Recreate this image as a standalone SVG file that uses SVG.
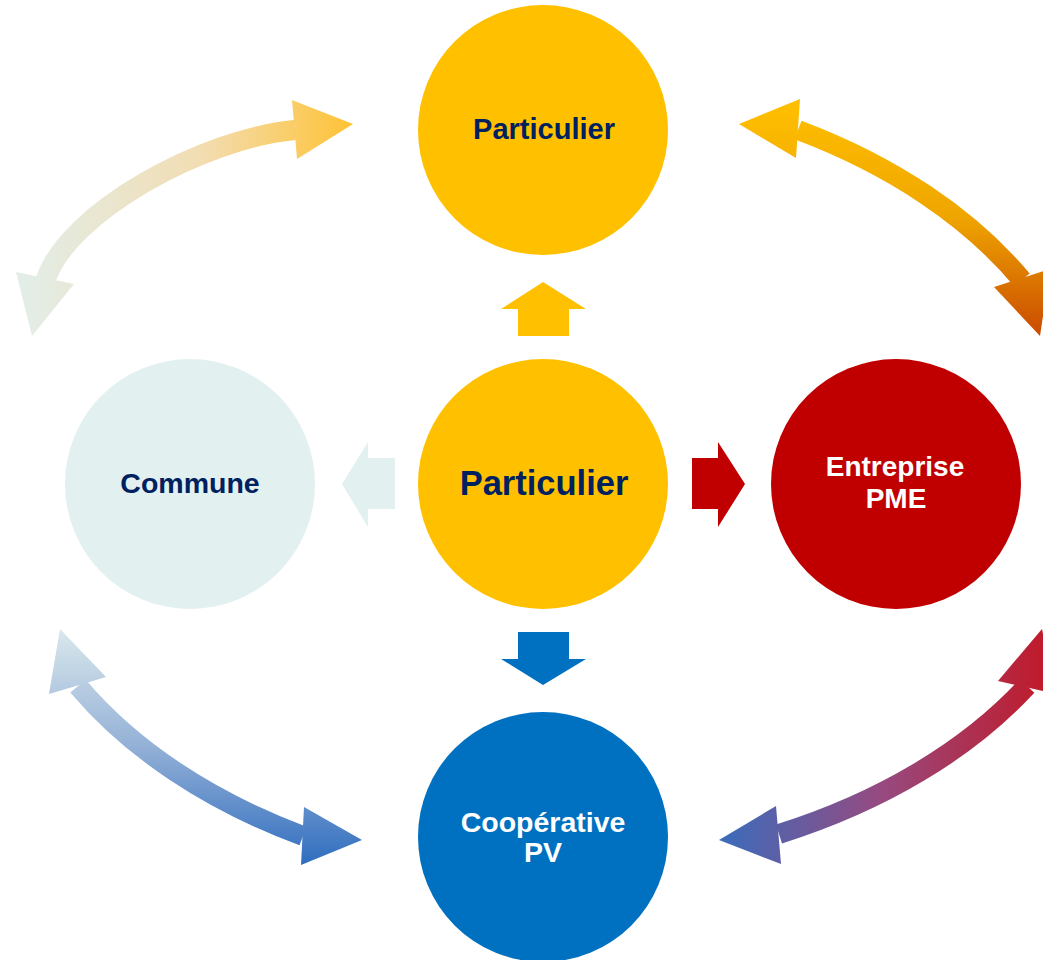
<svg xmlns="http://www.w3.org/2000/svg" width="1043" height="960" viewBox="0 0 1043 960">
<style>
.lbl{font-family:"Liberation Sans",Arial,sans-serif;font-weight:bold;text-anchor:middle}
.navy{fill:#002060}
.white{fill:#FFFFFF}
.shaft{fill:none;stroke-width:20;stroke-linecap:butt}
</style>
<defs>
<linearGradient id="gTL" gradientUnits="userSpaceOnUse" x1="16" y1="0" x2="353" y2="0">
<stop offset="0" stop-color="#E2EEEA"/><stop offset="0.55" stop-color="#F2DDB2"/><stop offset="1" stop-color="#FFC235"/>
</linearGradient>
<linearGradient id="gTR" gradientUnits="userSpaceOnUse" x1="0" y1="99" x2="0" y2="336">
<stop offset="0" stop-color="#FFC000"/><stop offset="0.5" stop-color="#EFA500"/><stop offset="1" stop-color="#C94A00"/>
</linearGradient>
<linearGradient id="gBL" gradientUnits="userSpaceOnUse" x1="0" y1="629" x2="0" y2="865">
<stop offset="0" stop-color="#DAE8EC"/><stop offset="0.5" stop-color="#93B0D6"/><stop offset="1" stop-color="#2F6DBF"/>
</linearGradient>
<linearGradient id="gBR" gradientUnits="userSpaceOnUse" x1="719" y1="0" x2="1043" y2="0">
<stop offset="0" stop-color="#3A6CBC"/><stop offset="0.5" stop-color="#964A80"/><stop offset="1" stop-color="#C01B2B"/>
</linearGradient>
</defs>
<rect width="1043" height="960" fill="#FFFFFF"/>
<g id="connectors">
<g id="arrow-top-left">
<path class="shaft" stroke="url(#gTL)" d="M45,282 C66,212 205,138 295,130"/>
<polygon fill="url(#gTL)" points="292,100 353,124 297,159"/>
<polygon fill="url(#gTL)" points="16,272 32,336 74,284"/>
</g>
<g id="arrow-top-right">
<path class="shaft" stroke="url(#gTR)" d="M798,130 A585,391 0 0 1 1022,280"/>
<polygon fill="url(#gTR)" points="739,124 800,99 796,158"/>
<polygon fill="url(#gTR)" points="994,287 1040,336 1050,269"/>
</g>
<g id="arrow-bottom-left">
<path class="shaft" stroke="url(#gBL)" d="M78,686 A585,391 0 0 0 303,836"/>
<polygon fill="url(#gBL)" points="60,629 49,694 106,677"/>
<polygon fill="url(#gBL)" points="362,840 304,807 301,865"/>
</g>
<g id="arrow-bottom-right">
<path class="shaft" stroke="url(#gBR)" d="M779,834 A585,391 0 0 0 1027,686"/>
<polygon fill="url(#gBR)" points="719,840 776,806 781,864"/>
<polygon fill="url(#gBR)" points="1042,629 998,681 1056,694"/>
</g>
<polygon id="arrow-up" fill="#FFC000" points="543,282 586,309 569,309 569,336 518,336 518,309 501,309"/>
<polygon id="arrow-down" fill="#0070C0" points="518,632 569,632 569,659 586,659 543,685 501,659 518,659"/>
<polygon id="arrow-left" fill="#E2F0EF" points="342,484 368,442 368,458 395,458 395,509 368,509 368,527"/>
<polygon id="arrow-right" fill="#C00000" points="692,458 718,458 718,442 745,484 718,527 718,509 692,509"/>
</g>
<g id="node-particulier-top">
<circle cx="543" cy="130" r="125" fill="#FFC000"/>
<text class="lbl navy" x="544" y="139" font-size="29">Particulier</text>
</g>
<g id="node-commune">
<circle cx="190" cy="484" r="125" fill="#E2F0EF"/>
<text class="lbl navy" x="190" y="493" font-size="28.5">Commune</text>
</g>
<g id="node-particulier-center">
<circle cx="543" cy="484" r="125" fill="#FFC000"/>
<text class="lbl navy" x="544" y="495" font-size="34.5">Particulier</text>
</g>
<g id="node-entreprise">
<circle cx="896" cy="484" r="125" fill="#C00000"/>
<text class="lbl white" x="895" y="476" font-size="28">Entreprise</text>
<text class="lbl white" x="896" y="508" font-size="28">PME</text>
</g>
<g id="node-cooperative">
<circle cx="543" cy="837" r="125" fill="#0070C0"/>
<text class="lbl white" x="543" y="832" font-size="28.5">Coopérative</text>
<text class="lbl white" x="543" y="862" font-size="28.5">PV</text>
</g>
</svg>
